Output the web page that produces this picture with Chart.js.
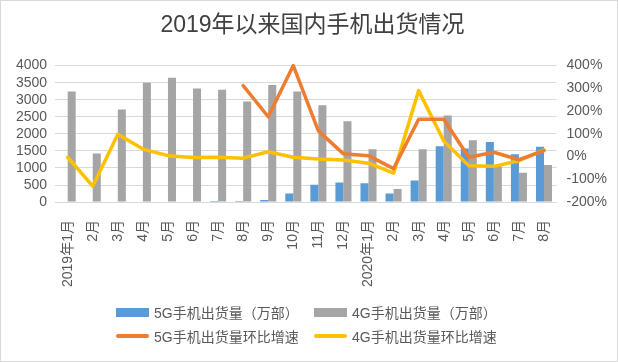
<!DOCTYPE html>
<html>
<head>
<meta charset="utf-8">
<script src="https://cdn.jsdelivr.net/npm/chart.js@4.4.0/dist/chart.umd.min.js"></script>
<style>
	body { margin: 0; background: #fff; }
	#wrap { position: relative; width: 618px; height: 362px; box-sizing: border-box; border: 1px solid #d9d9d9; background: #fff; }
	#legend { position: absolute; left: 115px; top: 302px; display: grid; grid-template-columns: 198px 198px; row-gap: 6px;
		font: 14px 'Liberation Sans', 'Noto Sans CJK SC', sans-serif; color: #595959; }
	#legend .item { display: flex; align-items: center; height: 18px; white-space: nowrap; }
	#legend .sw { display: inline-block; width: 33px; margin-right: 5px; }
</style>
</head>
<body>
<div id="wrap">
	<canvas id="chartjs-canvas" width="616" height="360"></canvas>
	<div id="legend"></div>
</div>
<script>
const categories = ['2019年1月', '2月', '3月', '4月', '5月', '6月', '7月', '8月', '9月', '10月', '11月', '12月',
	'2020年1月', '2月', '3月', '4月', '5月', '6月', '7月', '8月'];
// 出货量（万部）
const ship5g = [null, null, null, null, null, null, 5, 30, 60, 250, 505, 570, 555, 250, 630, 1638, 1570, 1762, 1405, 1618];
const ship4g = [3240, 1420, 2710, 3500, 3645, 3330, 3290, 2950, 3435, 3240, 2835, 2370, 1550, 380, 1550, 2535, 1810, 1050, 860, 1085];
// 环比增速（%）
const growth5g = [null, null, null, null, null, null, null, 312, 175, 400, 113, 12, 4, -53, 164, 164, -3, 19, -14, 26];
const growth4g = [-3, -130, 98, 33, 4, -4, -3, -7, 21, -3, -11, -15, -29, -73, 290, 69, -40, -43, -18, 29];

const names = ['5G手机出货量（万部）', '4G手机出货量（万部）', '5G手机出货量环比增速', '4G手机出货量环比增速'];
const colors = ['#5B9BD5', '#A5A5A5', '#ED7D31', '#FFC000'];

const font = 'Liberation Sans, Noto Sans CJK SC, sans-serif';
const textColor = '#595959';

const lineDs = (i, values) => ({
	type: 'line',
	label: names[i],
	data: values,
	yAxisID: 'y1',
	borderColor: colors[i],
	backgroundColor: colors[i],
	borderWidth: 3.5,
	borderJoinStyle: 'round',
	borderCapStyle: 'round',
	pointRadius: 0,
	tension: 0,
	clip: false,
	order: 1
});

const barDs = (i, values) => ({
	type: 'bar',
	label: names[i],
	data: values,
	yAxisID: 'y',
	backgroundColor: colors[i],
	categoryPercentage: 0.64,
	barPercentage: 1.0,
	order: 2
});

const config = {
	type: 'bar',
	data: {
		labels: categories,
		datasets: [barDs(0, ship5g), barDs(1, ship4g), lineDs(2, growth5g), lineDs(3, growth4g)]
	},
	options: {
		responsive: false,
		animation: false,
		layout: { padding: { left: 7, right: 0, top: 0, bottom: 64 } },
		plugins: {
			legend: { display: false },
			tooltip: { enabled: false },
			title: {
				display: true,
				text: '2019年以来国内手机出货情况',
				color: '#404040',
				font: { family: font, size: 23, weight: 'normal' },
				padding: { top: 11, bottom: 26 }
			}
		},
		scales: {
			x: {
				grid: { display: false },
				border: { color: '#d9d9d9' },
				ticks: {
					autoSkip: false,
					minRotation: 90,
					maxRotation: 90,
					padding: 10,
					color: textColor,
					font: { family: font, size: 14 }
				}
			},
			y: {
				position: 'left',
				min: 0,
				max: 4000,
				grid: { color: '#d9d9d9', drawTicks: false },
				border: { display: false },
				ticks: {
					autoSkip: false,
					stepSize: 500,
					padding: 8,
					color: textColor,
					font: { family: font, size: 14 },
					callback: v => String(v)
				}
			},
			y1: {
				position: 'right',
				min: -200,
				max: 400,
				grid: { display: false, drawTicks: false },
				border: { display: false },
				ticks: {
					autoSkip: false,
					stepSize: 100,
					padding: 10,
					color: textColor,
					font: { family: font, size: 14 },
					callback: v => v + '%'
				}
			}
		}
	}
};

const currentChart = new Chart(document.getElementById('chartjs-canvas'), config);

// legend laid out as in the original: two rows of two
const legend = document.getElementById('legend');
names.forEach((name, i) => {
	const item = document.createElement('div');
	item.className = 'item';
	const sw = document.createElement('span');
	sw.className = 'sw';
	sw.style.background = colors[i];
	if (i < 2) {
		sw.style.height = '9px';
	} else {
		sw.style.height = '4px';
		sw.style.borderRadius = '2px';
	}
	const label = document.createElement('span');
	label.textContent = name;
	item.appendChild(sw);
	item.appendChild(label);
	legend.appendChild(item);
});
</script>
</body>
</html>
